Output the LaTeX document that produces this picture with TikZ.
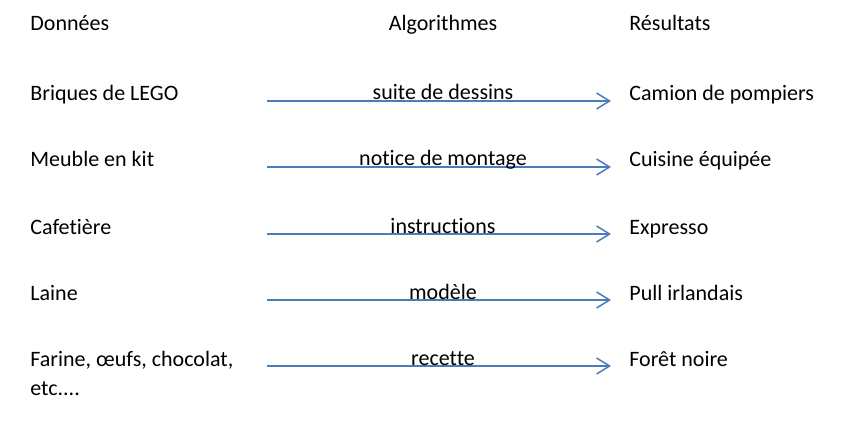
\documentclass[tikz,border=0pt]{standalone}
\usepackage{fontspec}
\setmainfont{Carlito}[Ligatures=NoCommon]
\usetikzlibrary{arrows.meta}
\definecolor{flecheblue}{RGB}{74,126,187}

\begin{document}
\begin{tikzpicture}[x=0.5pt, y=-0.5pt, font=\fontsize{11pt}{14.5pt}\selectfont,
    txt/.style={inner sep=0pt, anchor=base west},
    algo/.style={inner sep=0pt, anchor=base},
    fleche/.style={draw=flecheblue, line width=0.75pt, -{Straight Barb[length=6.5pt,width=8pt]}, shorten >=9pt}]
        \useasboundingbox (0,0) rectangle (849,422);
        % titres des colonnes
        \node[txt] (donnees) at (30,31) {Données};
        \node[algo] (algorithmes) at (443,31) {Algorithmes};
        \node[txt] (resultats) at (629,31) {Résultats};
        % donnees
        \node[txt] (lego) at (30,101) {Briques de LEGO};
        \node[txt] (meuble) at (30,167) {Meuble en kit};
        \node[txt] (cafetiere) at (30,234) {Cafetière};
        \node[txt] (laine) at (30,300) {Laine};
        \node[txt, align=left] (farine) at (30,395) {Farine, œufs, chocolat,\\etc....};
        % resultats
        \node[txt] (camion) at (629,101) {Camion de pompiers};
        \node[txt] (cuisine) at (629,167) {Cuisine équipée};
        \node[txt] (expresso) at (629,234) {Expresso};
        \node[txt] (pull) at (629,300) {Pull irlandais};
        \node[txt] (foret) at (629,366) {Forêt noire};
        % departs des fleches
        \coordinate (d1) at (267,101);
        \coordinate (d2) at (267,167);
        \coordinate (d3) at (267,234);
        \coordinate (d4) at (267,300);
        \coordinate (d5) at (267,366);
        \draw[fleche] (d1) -- (camion.base west);
        \draw[fleche] (d2) -- (cuisine.base west);
        \draw[fleche] (d3) -- (expresso.base west);
        \draw[fleche] (d4) -- (pull.base west);
        \draw[fleche] (d5) -- (foret.base west);
        % algorithmes
        \node[algo] (dessins) at (443,100) {suite de dessins};
        \node[algo] (notice) at (443,166) {notice de montage};
        \node[algo] (instructions) at (443,233) {instructions};
        \node[algo] (modele) at (443,299) {modèle};
        \node[algo] (recette) at (443,365) {recette};
    \end{tikzpicture}
\end{document}
